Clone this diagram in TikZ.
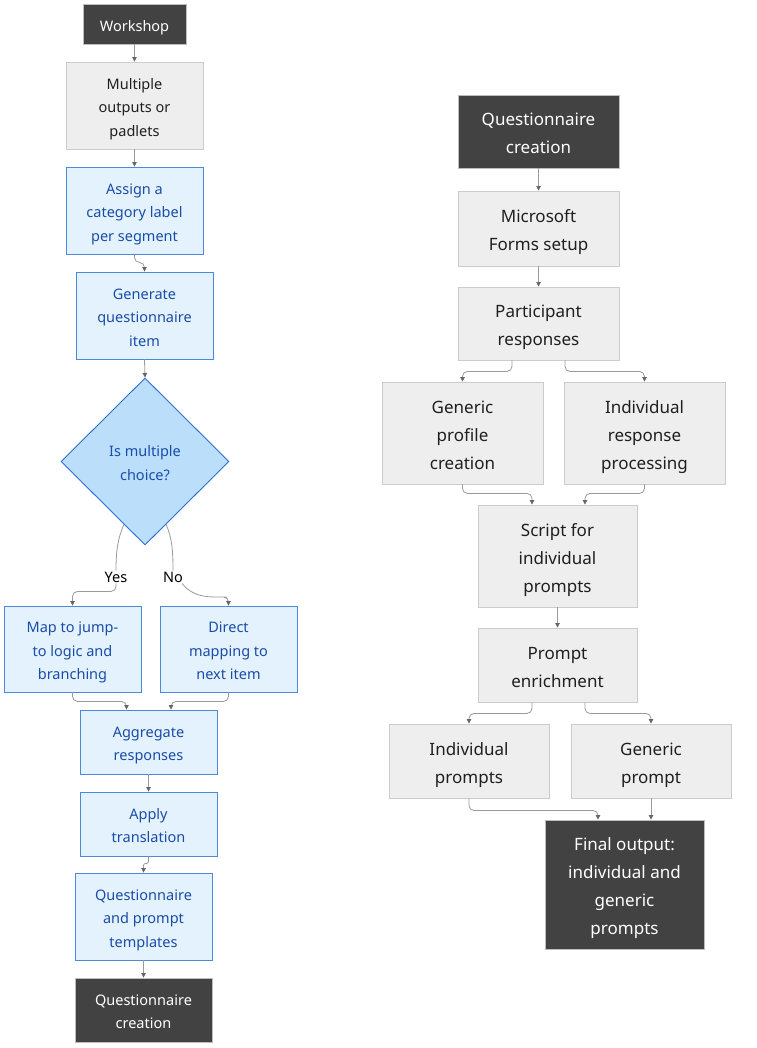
\documentclass[tikz,border=0pt]{standalone}
\usepackage{fontspec}
\setmainfont{Noto Sans}
\usetikzlibrary{shapes.geometric,arrows.meta,calc}
\definecolor{darkfill}{HTML}{424242}
\definecolor{darkline}{HTML}{BDBDBD}
\definecolor{grayfill}{HTML}{EEEEEE}
\definecolor{grayline}{HTML}{CCCCCC}
\definecolor{bluefill}{HTML}{E3F2FD}
\definecolor{blueline}{HTML}{4A89DC}
\definecolor{bluetext}{HTML}{1A4DA8}
\definecolor{diafill}{HTML}{BBDEFB}
\definecolor{dialine}{HTML}{2E6ECF}
\definecolor{connline}{HTML}{9A9A9A}
\definecolor{tipcol}{HTML}{666666}
\newcommand\txtlines[1]{\raisebox{-2.5pt}[\height][\depth]{\begin{tabular}{@{}c@{}}#1\end{tabular}}}
\tikzset{
  box/.style={rectangle, inner sep=0pt, line width=0.9pt},
  smalltext/.style={font=\fontsize{14.5}{23.5}\selectfont},
  bigtext/.style={font=\fontsize{17}{28}\selectfont},
  darkbox/.style={box, fill=darkfill, draw=darkline, text=white},
  graybox/.style={box, fill=grayfill, draw=grayline, text=black!88},
  bluebox/.style={box, fill=bluefill, draw=blueline, text=bluetext},
  decision/.style={diamond, inner sep=0pt, fill=diafill, draw=dialine, line width=0.9pt, text=bluetext, smalltext},
  conn/.style={draw=connline, line width=0.8pt, rounded corners=5pt},
  arr/.style={conn, -{Triangle[length=4.5pt,width=4.5pt,fill=tipcol,color=tipcol]}},
  lab/.style={inner sep=1pt, fill=white, text=black, smalltext},
  sz/.style 2 args={minimum width=#1pt, minimum height=#2pt}
}
\begin{document}
\begin{tikzpicture}[x=1pt,y=-1pt]
\useasboundingbox[fill=white] (0,0) rectangle (756,1048);
% ---------------- left column ----------------
\node[darkbox, smalltext, sz={103}{40}] (ws) at (134.5,24) {\txtlines{Workshop}};
\node[graybox, smalltext, sz={137}{87}] (mo) at (134.5,105.5) {\txtlines{Multiple\\outputs or\\padlets}};
\node[bluebox, smalltext, sz={137}{87}] (as) at (134.5,210.5) {\txtlines{Assign a\\category label\\per segment}};
\node[bluebox, smalltext, sz={137}{87}] (ge) at (144.5,315.5) {\txtlines{Generate\\questionnaire\\item}};
\node[decision, minimum width=168pt, minimum height=167pt] (dia) at (145,461.5) {\txtlines{Is multiple\\choice?}};
\node[lab] (yes) at (116,577) {Yes};
\node[lab] (no) at (173,577) {No};
\node[bluebox, smalltext, sz={137}{86}] (map) at (72.5,649) {\txtlines{Map to jump-\\to logic and\\branching}};
\node[bluebox, smalltext, sz={137}{86}] (dir) at (228.5,649) {\txtlines{Direct\\mapping to\\next item}};
\node[bluebox, smalltext, sz={137}{64}] (agg) at (148.5,742) {\txtlines{Aggregate\\responses}};
\node[bluebox, smalltext, sz={137}{64}] (app) at (148.5,824) {\txtlines{Apply\\translation}};
\node[bluebox, smalltext, sz={137}{87}] (qt) at (143.5,916.5) {\txtlines{Questionnaire\\and prompt\\templates}};
\node[darkbox, smalltext, sz={137}{64}] (qcl) at (143.5,1010) {\txtlines{Questionnaire\\creation}};

\draw[arr] (ws.south) -- (mo.north);
\draw[arr] (mo.south) -- (as.north);
\draw[arr] (as.south) -- ++(0,8) -| (ge.north);
\draw[arr] (ge.south) -- (dia.north);
\coordinate (dyes) at ($(dia.south)!0.25!(dia.west)$);
\coordinate (dno) at ($(dia.south)!0.25!(dia.east)$);
\draw[conn] (dyes) .. controls (118,538) and (116,550) .. (yes.north);
\draw[conn] (dno) .. controls (172,538) and (173,550) .. (no.north);
\draw[arr] (yes.south) -- ++(0,8) -| (map.north);
\draw[arr] ($(no.south east)+(-2,0)$) .. controls (192,596) and (205,597) .. (222,597) -- ++(6.5,0) -- (dir.north);
\draw[arr] (map.south) -- ++(0,9) -| ($(agg.north)+(-22,0)$);
\draw[arr] (dir.south) -- ++(0,9) -| ($(agg.north)+(22.5,0)$);
\draw[arr] (agg.south) -- (app.north);
\draw[arr, rounded corners=2pt] (app.south) -- ++(0,7) -| (qt.north);
\draw[arr] (qt.south) -- (qcl.north);

% ---------------- right column ----------------
\node[darkbox, bigtext, sz={161}{73}] (qc) at (538.5,131.5) {\txtlines{Questionnaire\\creation}};
\node[graybox, bigtext, sz={161}{75}] (ms) at (538.5,228.5) {\txtlines{Microsoft\\Forms setup}};
\node[graybox, bigtext, sz={161}{73}] (pr) at (538.5,323.5) {\txtlines{Participant\\responses}};
\node[graybox, bigtext, sz={161}{102}] (gpc) at (462.5,433) {\txtlines{Generic\\profile\\creation}};
\node[graybox, bigtext, sz={161}{102}] (irp) at (644.5,433) {\txtlines{Individual\\response\\processing}};
\node[graybox, bigtext, sz={159}{102}] (sc) at (557.5,556) {\txtlines{Script for\\individual\\prompts}};
\node[graybox, bigtext, sz={159}{74}] (pe) at (557.5,665) {\txtlines{Prompt\\enrichment}};
\node[graybox, bigtext, sz={160}{74}] (ip) at (469,761) {\txtlines{Individual\\prompts}};
\node[graybox, bigtext, sz={160}{74}] (gp) at (651,761) {\txtlines{Generic\\prompt}};
\node[darkbox, bigtext, sz={159}{129}] (fo) at (624.5,884.5) {\txtlines{Final output:\\individual and\\generic\\prompts}};

\draw[arr] (qc.south) -- (ms.north);
\draw[arr] (ms.south) -- (pr.north);
\draw[arr] ($(pr.south)+(-26.5,0)$) -- ++(0,11) -| (gpc.north);
\draw[arr] ($(pr.south)+(26.5,0)$) -- ++(0,11) -| (irp.north);
\draw[arr] (gpc.south) -- ++(0,9) -| ($(sc.north)+(-25.5,0)$);
\draw[arr] (irp.south) -- ++(0,9) -| ($(sc.north)+(27.5,0)$);
\draw[arr] (sc.south) -- (pe.north);
\draw[arr] ($(pe.south)+(-25.5,0)$) -- ++(0,11) -| (ip.north);
\draw[arr] ($(pe.south)+(27.5,0)$) -- ++(0,11) -| (gp.north);
\draw[arr] (ip.south) -- ++(0,12) -| ($(fo.north)+(-26.5,0)$);
\draw[arr] (gp.south) -- (gp.south |- fo.north);
\end{tikzpicture}
\end{document}
